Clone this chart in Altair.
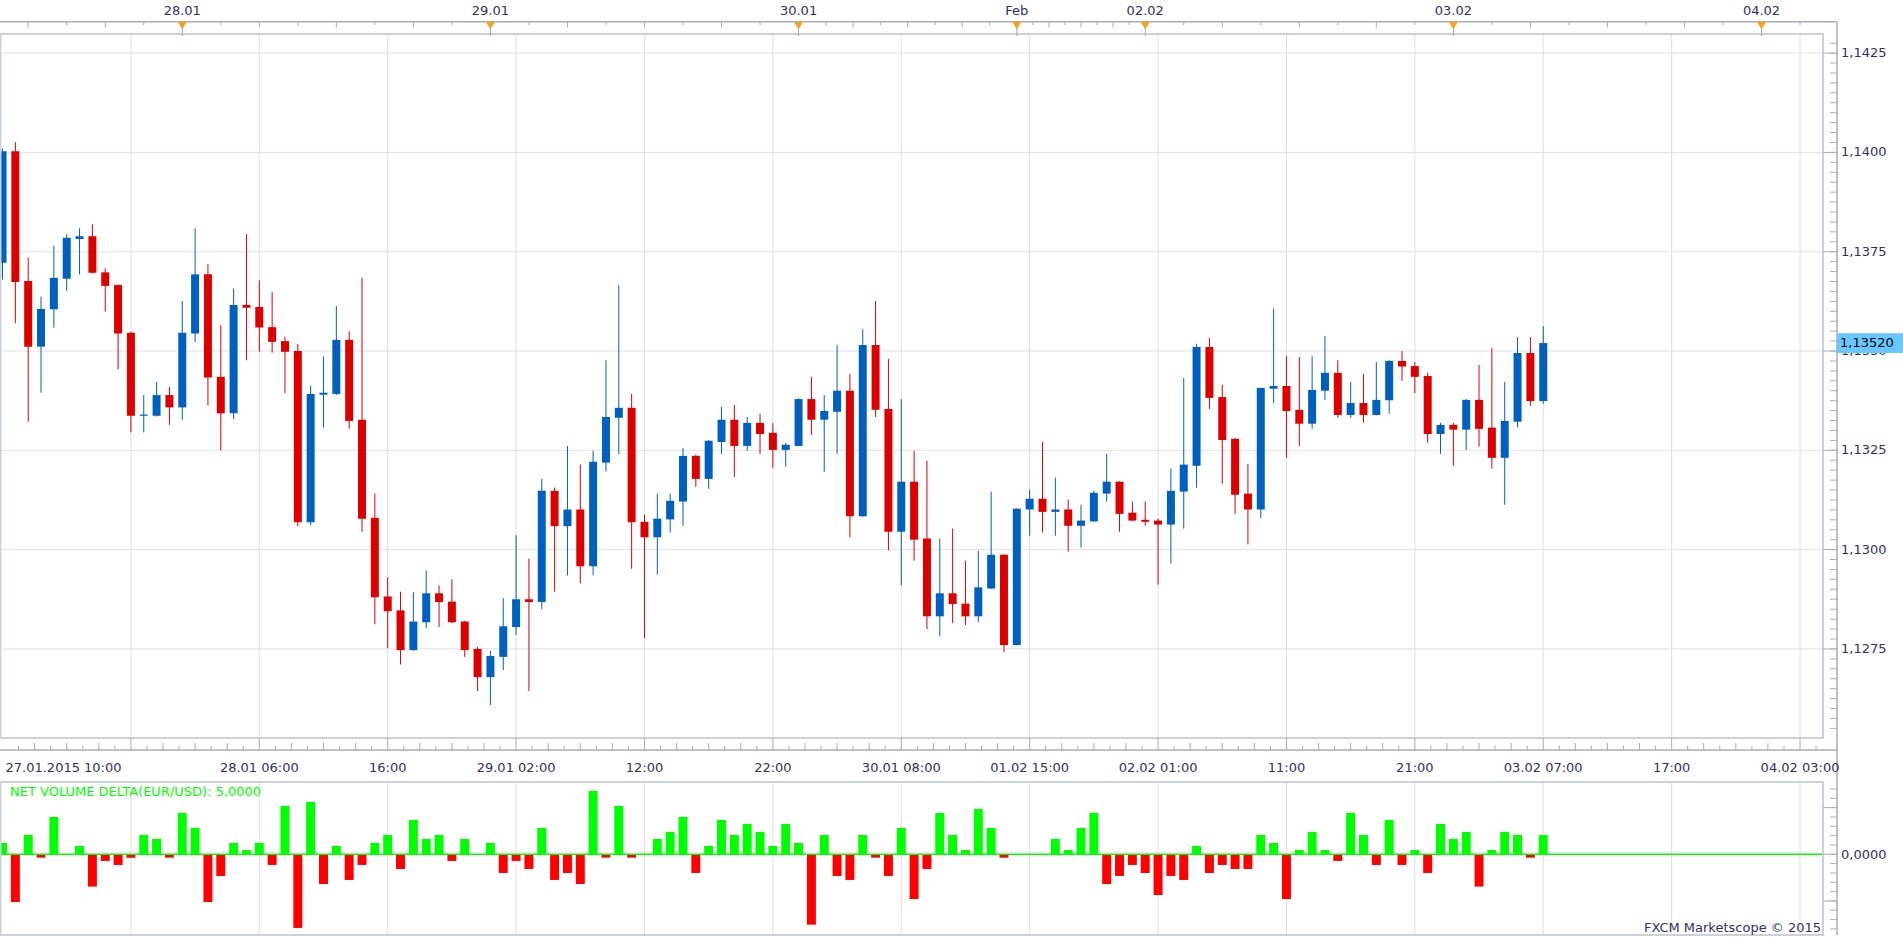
import altair as alt
import pandas as pd

# ---------------- data ----------------
BAR_N = list(range(121))
OPEN = [1.13722, 1.14003, 1.13676, 1.13511, 1.13605, 1.13682, 1.13782, 1.13789, 1.13698, 1.13666,
        1.13546, 1.13337, 1.13337, 1.13389, 1.13358, 1.13544, 1.13693, 1.13435, 1.13343, 1.13616,
        1.13611, 1.13560, 1.13525, 1.13500, 1.13069, 1.13390, 1.13392, 1.13528, 1.13327, 1.13080,
        1.12882, 1.12847, 1.12747, 1.12817, 1.12890, 1.12869, 1.12819, 1.12750, 1.12679, 1.12730,
        1.12805, 1.12875, 1.12868, 1.13148, 1.13059, 1.13101, 1.12958, 1.13219, 1.13332, 1.13357,
        1.13070, 1.13031, 1.13076, 1.13121, 1.13236, 1.13178, 1.13271, 1.13327, 1.13261, 1.13319,
        1.13294, 1.13251, 1.13261, 1.13379, 1.13327, 1.13347, 1.13400, 1.13084, 1.13515, 1.13354,
        1.13045, 1.13171, 1.13028, 1.12832, 1.12890, 1.12864, 1.12832, 1.12902, 1.12987, 1.12760,
        1.13101, 1.13128, 1.13095, 1.13101, 1.13060, 1.13071, 1.13141, 1.13171, 1.13093, 1.13075,
        1.13073, 1.13063, 1.13146, 1.13211, 1.13510, 1.13384, 1.13279, 1.13141, 1.13101, 1.13405,
        1.13412, 1.13352, 1.13317, 1.13400, 1.13445, 1.13339, 1.13369, 1.13339, 1.13376, 1.13475,
        1.13462, 1.13437, 1.13291, 1.13314, 1.13302, 1.13377, 1.13307, 1.13231, 1.13322, 1.13495,
        1.13374]
HIGH = [1.14010, 1.14026, 1.13735, 1.13637, 1.13765, 1.13794, 1.13809, 1.13819, 1.13708, 1.13668,
        1.13548, 1.13389, 1.13422, 1.13409, 1.13626, 1.13809, 1.13719, 1.13565, 1.13657, 1.13794,
        1.13678, 1.13648, 1.13536, 1.13518, 1.13412, 1.13486, 1.13613, 1.13550, 1.13684, 1.13141,
        1.12930, 1.12894, 1.12892, 1.12947, 1.12910, 1.12925, 1.12820, 1.12755, 1.12745, 1.12878,
        1.13036, 1.12977, 1.13178, 1.13156, 1.13261, 1.13214, 1.13249, 1.13477, 1.13666, 1.13392,
        1.13088, 1.13141, 1.13141, 1.13256, 1.13239, 1.13276, 1.13359, 1.13364, 1.13334, 1.13342,
        1.13319, 1.13269, 1.13381, 1.13435, 1.13389, 1.13515, 1.13442, 1.13555, 1.13626, 1.13480,
        1.13379, 1.13249, 1.13224, 1.13028, 1.13053, 1.12972, 1.12997, 1.13146, 1.12988, 1.13104,
        1.13151, 1.13271, 1.13181, 1.13126, 1.13113, 1.13148, 1.13241, 1.13172, 1.13121, 1.13121,
        1.13078, 1.13204, 1.13432, 1.13518, 1.13533, 1.13415, 1.13281, 1.13216, 1.13408, 1.13607,
        1.13487, 1.13485, 1.13487, 1.13538, 1.13477, 1.13422, 1.13442, 1.13472, 1.13477, 1.13500,
        1.13472, 1.13445, 1.13319, 1.13319, 1.13379, 1.13465, 1.13508, 1.13422, 1.13535, 1.13535,
        1.13563]
LOW = [1.13680, 1.13570, 1.13322, 1.13395, 1.13559, 1.13652, 1.13693, 1.13695, 1.13599, 1.13454,
       1.13295, 1.13295, 1.13335, 1.13314, 1.13327, 1.13523, 1.13363, 1.13250, 1.13329, 1.13477,
       1.13498, 1.13496, 1.13394, 1.13059, 1.13061, 1.13307, 1.13389, 1.13304, 1.13045, 1.12812,
       1.12752, 1.12711, 1.12745, 1.12802, 1.12805, 1.12815, 1.12730, 1.12644, 1.12609, 1.12697,
       1.12785, 1.12644, 1.12850, 1.12894, 1.12935, 1.12915, 1.12935, 1.13197, 1.13240, 1.12952,
       1.12777, 1.12937, 1.13043, 1.13060, 1.13158, 1.13153, 1.13241, 1.13183, 1.13249, 1.13241,
       1.13206, 1.13209, 1.13260, 1.13289, 1.13196, 1.13241, 1.13031, 1.13083, 1.13334, 1.12998,
       1.12910, 1.12972, 1.12800, 1.12782, 1.12815, 1.12810, 1.12817, 1.12901, 1.12742, 1.12759,
       1.13035, 1.13043, 1.13035, 1.12995, 1.13005, 1.13070, 1.13121, 1.13045, 1.13072, 1.13060,
       1.12912, 1.12965, 1.13053, 1.13156, 1.13354, 1.13166, 1.13090, 1.13013, 1.13080, 1.13369,
       1.13231, 1.13261, 1.13304, 1.13377, 1.13332, 1.13332, 1.13319, 1.13338, 1.13342, 1.13425,
       1.13394, 1.13269, 1.13241, 1.13211, 1.13251, 1.13259, 1.13204, 1.13113, 1.13307, 1.13362,
       1.13367]
CLOSE = [1.14003, 1.13674, 1.13511, 1.13606, 1.13684, 1.13785, 1.13789, 1.13697, 1.13664, 1.13544,
         1.13337, 1.13340, 1.13389, 1.13358, 1.13546, 1.13693, 1.13433, 1.13343, 1.13616, 1.13609,
         1.13559, 1.13523, 1.13498, 1.13069, 1.13392, 1.13395, 1.13528, 1.13324, 1.13078, 1.12880,
         1.12845, 1.12747, 1.12819, 1.12890, 1.12868, 1.12817, 1.12747, 1.12679, 1.12732, 1.12807,
         1.12875, 1.12868, 1.13148, 1.13059, 1.13101, 1.12958, 1.13221, 1.13334, 1.13357, 1.13069,
         1.13031, 1.13078, 1.13123, 1.13236, 1.13178, 1.13274, 1.13327, 1.13261, 1.13319, 1.13291,
         1.13251, 1.13264, 1.13379, 1.13327, 1.13349, 1.13400, 1.13084, 1.13515, 1.13352, 1.13045,
         1.13171, 1.13025, 1.12832, 1.12890, 1.12863, 1.12832, 1.12905, 1.12987, 1.12760, 1.13103,
         1.13128, 1.13095, 1.13101, 1.13060, 1.13073, 1.13143, 1.13171, 1.13090, 1.13073, 1.13070,
         1.13063, 1.13148, 1.13214, 1.13510, 1.13382, 1.13276, 1.13138, 1.13101, 1.13407, 1.13412,
         1.13349, 1.13317, 1.13402, 1.13445, 1.13339, 1.13369, 1.13339, 1.13377, 1.13475, 1.13461,
         1.13435, 1.13291, 1.13314, 1.13302, 1.13377, 1.13304, 1.13231, 1.13324, 1.13495, 1.13374,
         1.13520]
DELTA = [1.21, -5.11, 2.07, -0.36, 4.00, -0.07, 0.89, -3.46, -0.71, -1.14,
         -0.36, 2.07, 1.64, -0.36, 4.43, 2.82, -5.11, -2.32, 1.21, 0.46,
         1.21, -1.14, 5.18, -7.89, 5.61, -3.18, 0.89, -2.75, -1.14, 1.21,
         2.07, -1.57, 3.68, 1.64, 2.07, -0.71, 1.64, -0.07, 1.21, -2.00,
         -0.71, -1.57, 2.82, -2.75, -2.00, -3.18, 6.79, -0.36, 5.18, -0.36,
         -0.07, 1.64, 2.39, 4.00, -2.00, 0.89, 3.68, 2.07, 3.25, 2.39,
         0.89, 3.25, 1.21, -7.54, 2.07, -2.32, -2.75, 2.07, -0.36, -2.32,
         2.82, -4.79, -1.57, 4.43, 2.07, 0.46, 4.86, 2.82, -0.36, 0.00,
         0.00, 0.00, 1.64, 0.46, 2.82, 4.43, -3.18, -2.32, -1.14, -2.00,
         -4.36, -2.32, -2.75, 0.89, -2.00, -1.14, -1.57, -1.57, 2.07, 1.21,
         -4.79, 0.46, 2.39, 0.46, -0.71, 4.43, 2.07, -1.14, 3.68, -1.14,
         0.46, -2.00, 3.25, 1.64, 2.39, -3.46, 0.46, 2.39, 2.07, -0.36,
         2.07]

PRICE_TICKS = [1.1275, 1.1300, 1.1325, 1.1350, 1.1375, 1.1400, 1.1425]
PRICE_LABELS = ["1,1275", "1,1300", "1,1325", "1,1350", "1,1375", "1,1400", "1,1425"]
LAST_PRICE = 1.13520
LAST_LABEL = "1,13520"

DAY_N = [14, 38, 62, 79, 89, 113, 137]
DAY_LABELS = ["28.01", "29.01", "30.01", "Feb", "02.02", "03.02", "04.02"]

TIME_N = [0, 20, 30, 40, 50, 60, 70, 80, 90, 100, 110, 120, 130, 140]
TIME_LABELS = ["27.01.2015 10:00", "28.01 06:00", "16:00", "29.01 02:00", "12:00", "22:00",
               "30.01 08:00", "01.02 15:00", "02.02 01:00", "11:00", "21:00", "03.02 07:00",
               "17:00", "04.02 03:00"]
GRID_N = [10, 20, 30, 40, 50, 60, 70, 80, 90, 100, 110, 120, 130, 140]

TITLE = "NET VOLUME DELTA(EUR/USD): 5,0000"
COPYRIGHT = "FXCM Marketscope \u00a9 2015"

# ---------------- styling / layout ----------------
W, H = 1823, 903
MAIN_H = 704
VOL_TOP, VOL_BOT = 748, 901
FONT = "DejaVu Sans"
FS = 13
BLUE, RED = "#0060c0", "#dd0000"
VGREEN, VRED = "#00ff00", "#ff0000"
GRID = "#dfdfdf"
BORDER = "#c9d1dd"
AXIS = "#a4adbd"
TXT = "#31316a"
ORANGE = "#f5a21c"
BOX = "#66c8ff"

xs = alt.Scale(domain=[0.1937, 141.4], range=[0, W], nice=False, zero=False)
ps = alt.Scale(domain=[1.125257, 1.142981], range=[MAIN_H, 0], nice=False, zero=False)
vs = alt.Scale(domain=[-8.647, 7.747], range=[VOL_BOT, VOL_TOP], nice=False, zero=False)

candles = pd.DataFrame({"n": BAR_N, "open": OPEN, "high": HIGH, "low": LOW, "close": CLOSE})
vol = pd.DataFrame({"n": BAR_N, "delta": DELTA})
up = alt.datum.close >= alt.datum.open

X = lambda f="n": alt.X(f"{f}:Q", scale=xs, axis=None)

layers = []

# gridlines
gx = pd.DataFrame({"n": GRID_N})
layers.append(alt.Chart(gx).mark_rule(color=GRID, strokeWidth=1).encode(
    x=X(), y=alt.value(0), y2=alt.value(MAIN_H)))
layers.append(alt.Chart(gx).mark_rule(color=GRID, strokeWidth=1).encode(
    x=X(), y=alt.value(VOL_TOP), y2=alt.value(VOL_BOT)))
gp = pd.DataFrame({"p": PRICE_TICKS, "lbl": PRICE_LABELS})
layers.append(alt.Chart(gp).mark_rule(color=GRID, strokeWidth=1).encode(
    y=alt.Y("p:Q", scale=ps, axis=None), x=alt.value(0), x2=alt.value(W)))

# candles
layers.append(alt.Chart(candles).mark_rule(strokeWidth=1).encode(
    x=X(), y=alt.Y("low:Q", scale=ps, axis=None), y2="high:Q",
    color=alt.condition(up, alt.value(BLUE), alt.value(RED))))
layers.append(alt.Chart(candles).mark_bar(size=8).encode(
    x=X(), y=alt.Y("open:Q", scale=ps, axis=None), y2="close:Q",
    color=alt.condition(up, alt.value(BLUE), alt.value(RED))))

# volume delta
layers.append(alt.Chart(vol).mark_bar(size=9).encode(
    x=X(), y=alt.Y("delta:Q", scale=vs, axis=None), y2=alt.datum(0),
    color=alt.condition(alt.datum.delta >= 0, alt.value(VGREEN), alt.value(VRED))))
zero = pd.DataFrame({"z": [0.0]})
layers.append(alt.Chart(zero).mark_rule(color=VGREEN, strokeWidth=1.5).encode(
    y=alt.Y("z:Q", scale=vs, axis=None), x=alt.value(0), x2=alt.value(W)))

# panel borders
one = pd.DataFrame({"a": [0]})
layers.append(alt.Chart(one).mark_rect(fill=None, stroke=BORDER, strokeWidth=2).encode(
    x=alt.value(0.5), x2=alt.value(W), y=alt.value(0), y2=alt.value(MAIN_H)))
layers.append(alt.Chart(one).mark_rect(fill=None, stroke=BORDER, strokeWidth=2).encode(
    x=alt.value(0.5), x2=alt.value(W), y=alt.value(VOL_TOP), y2=alt.value(VOL_BOT)))

# top date strip
layers.append(alt.Chart(one).mark_rule(color=AXIS, strokeWidth=1.5).encode(
    x=alt.value(0), x2=alt.value(1837), y=alt.value(-12.3)))
layers.append(alt.Chart(one).mark_rule(color=AXIS, strokeWidth=1.5).encode(
    x=alt.value(1837), y=alt.value(-12.3), y2=alt.value(VOL_BOT)))
top_ticks = []
prev = [-10] + DAY_N
for a, b in zip(prev[:-1], DAY_N):
    if a < 0:
        for k in range(1, 5):
            top_ticks.append((b - 3 * k, k % 2 == 0))
    else:
        for k in range(1, 8):
            top_ticks.append((a + (b - a) * k / 8.0, k % 2 == 0))
top_ticks.append((140, False))
tt = pd.DataFrame({"n": [t[0] for t in top_ticks], "tall": [t[1] for t in top_ticks]})
layers.append(alt.Chart(tt[tt.tall]).mark_rule(color=AXIS, strokeWidth=1).encode(
    x=X(), y=alt.value(-12.3), y2=alt.value(-6.5)))
layers.append(alt.Chart(tt[~tt.tall]).mark_rule(color=AXIS, strokeWidth=1).encode(
    x=X(), y=alt.value(-12.3), y2=alt.value(-9)))
days = pd.DataFrame({"n": DAY_N, "lbl": DAY_LABELS})
layers.append(alt.Chart(days).mark_rule(color=AXIS, strokeWidth=1).encode(
    x=X(), y=alt.value(-6), y2=alt.value(2)))
layers.append(alt.Chart(days).mark_point(shape="triangle-down", filled=True, opacity=1,
                                         color=ORANGE, size=81).encode(
    x=X(), y=alt.value(-8.4)))
layers.append(alt.Chart(days).mark_text(font=FONT, fontSize=FS, color=TXT, baseline="middle").encode(
    x=X(), y=alt.value(-23.3), text="lbl:N"))

# bottom time strip
layers.append(alt.Chart(one).mark_rule(color=AXIS, strokeWidth=1.5).encode(
    x=alt.value(0), x2=alt.value(1837), y=alt.value(716)))
layers.append(alt.Chart(gx).mark_rule(color=AXIS, strokeWidth=1).encode(
    x=X(), y=alt.value(MAIN_H), y2=alt.value(716)))
minor = []
for k in range(0, 15):
    for j in range(1, 8):
        v = 10 * k + 1.25 * j
        if v < 141.4:
            minor.append((v, j % 2 == 0))
mt = pd.DataFrame({"n": [m[0] for m in minor], "tall": [m[1] for m in minor]})
layers.append(alt.Chart(mt[mt.tall]).mark_rule(color=AXIS, strokeWidth=1).encode(
    x=X(), y=alt.value(709), y2=alt.value(716)))
layers.append(alt.Chart(mt[~mt.tall]).mark_rule(color=AXIS, strokeWidth=1).encode(
    x=X(), y=alt.value(711.5), y2=alt.value(716)))
tl = pd.DataFrame({"n": TIME_N, "lbl": TIME_LABELS})
layers.append(alt.Chart(tl.iloc[:1]).mark_text(font=FONT, fontSize=FS, color=TXT, align="left",
                                               baseline="middle", dx=3).encode(
    x=X(), y=alt.value(734), text="lbl:N"))
layers.append(alt.Chart(tl.iloc[1:]).mark_text(font=FONT, fontSize=FS, color=TXT,
                                               baseline="middle").encode(
    x=X(), y=alt.value(734), text="lbl:N"))

# right price axis
minor_p = pd.DataFrame({"p": [1.1255 + 0.00025 * i for i in range(70)]})
layers.append(alt.Chart(minor_p).mark_rule(color=AXIS, strokeWidth=1).encode(
    y=alt.Y("p:Q", scale=ps, axis=None), x=alt.value(1830), x2=alt.value(1837)))
layers.append(alt.Chart(gp).mark_rule(color=AXIS, strokeWidth=1).encode(
    y=alt.Y("p:Q", scale=ps, axis=None), x=alt.value(W), x2=alt.value(1837)))
layers.append(alt.Chart(gp).mark_text(font=FONT, fontSize=FS, color=TXT, align="left",
                                      baseline="middle").encode(
    y=alt.Y("p:Q", scale=ps, axis=None), x=alt.value(1841), text="lbl:N"))

# lower axis
vt = pd.DataFrame({"v": list(range(-8, 8))})
layers.append(alt.Chart(vt).mark_rule(color=AXIS, strokeWidth=1).encode(
    y=alt.Y("v:Q", scale=vs, axis=None), x=alt.value(1830), x2=alt.value(1837)))
vmaj = pd.DataFrame({"v": [-5, 0, 5], "lbl": ["", "0,0000", ""]})
layers.append(alt.Chart(vmaj).mark_rule(color=AXIS, strokeWidth=1).encode(
    y=alt.Y("v:Q", scale=vs, axis=None), x=alt.value(W), x2=alt.value(1837)))
layers.append(alt.Chart(vmaj).mark_text(font=FONT, fontSize=FS, color=TXT, align="left",
                                        baseline="middle", dy=1).encode(
    y=alt.Y("v:Q", scale=vs, axis=None), x=alt.value(1841), text="lbl:N"))

# last price box
last = pd.DataFrame({"p": [LAST_PRICE], "lbl": [LAST_LABEL]})
layers.append(alt.Chart(last).transform_calculate(
    top="datum.p + 0.000248", bot="datum.p - 0.000248").mark_rect(color=BOX).encode(
    y=alt.Y("top:Q", scale=ps, axis=None), y2="bot:Q", x=alt.value(1837), x2=alt.value(1903)))
layers.append(alt.Chart(last).mark_text(font=FONT, fontSize=FS, color="#000000", align="left",
                                        baseline="middle").encode(
    y=alt.Y("p:Q", scale=ps, axis=None), x=alt.value(1840), text="lbl:N"))

# texts
layers.append(alt.Chart(pd.DataFrame({"t": [TITLE]})).mark_text(
    font=FONT, fontSize=FS, color=VGREEN, align="left", baseline="middle").encode(
    x=alt.value(10), y=alt.value(758), text="t:N"))
layers.append(alt.Chart(pd.DataFrame({"t": [COPYRIGHT]})).mark_text(
    font=FONT, fontSize=FS, color=TXT, align="right", baseline="middle").encode(
    x=alt.value(1821), y=alt.value(894), text="t:N"))

chart = alt.layer(*layers).resolve_scale(y="independent").properties(
    width=W, height=H,
    padding={"left": 0, "top": 34, "right": 80, "bottom": 0},
    autosize=alt.AutoSizeParams(type="none"),
    background="#ffffff",
).configure_view(stroke=None)

chart.save("out.html", embed_options={"renderer": "svg", "actions": False})
